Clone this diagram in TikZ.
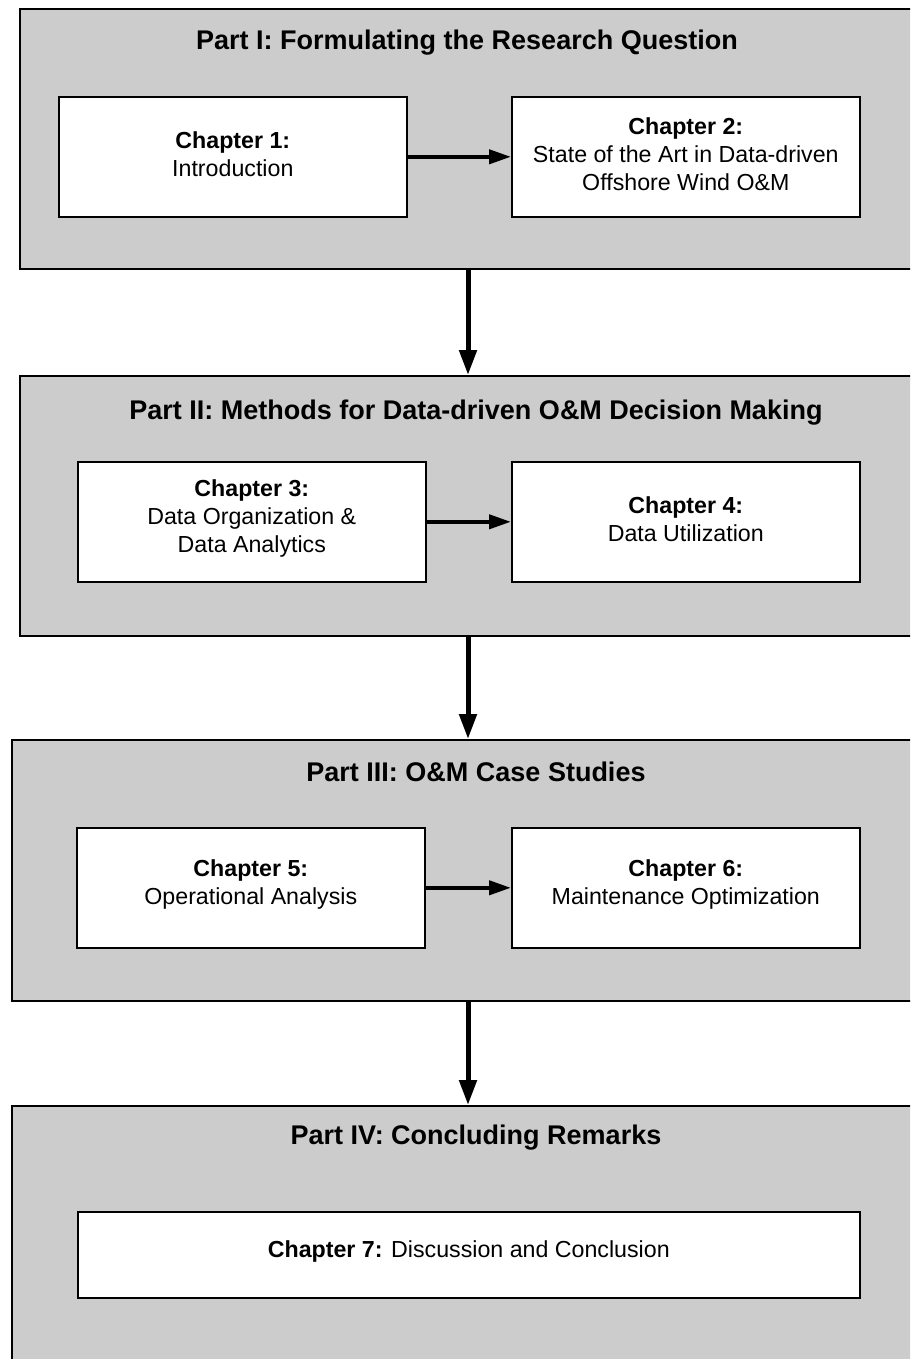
\documentclass[tikz,border=0pt]{standalone}
\usepackage{fontspec}
\setmainfont{Liberation Sans}
\usetikzlibrary{arrows.meta}
\definecolor{partgray}{HTML}{CCCCCC}
\tikzset{
  partbox/.style={draw=black, fill=partgray, line width=2pt, anchor=north west, inner sep=0pt},
  chapbox/.style={draw=black, fill=white, line width=1.6pt, anchor=north west, inner sep=0pt,
    minimum width=348pt, minimum height=120pt},
  chaptext/.style={align=center, inner sep=0pt, font=\fontsize{23.2}{28}\selectfont},
  parttitle/.style={font=\fontsize{27}{32}\selectfont\bfseries, inner sep=0pt},
  flow/.style={line width=4pt, -{Triangle[length=22pt, width=14pt]}},
  downflow/.style={line width=5pt, -{Triangle[length=25pt, width=17pt]}},
}
\begin{document}
\begin{tikzpicture}[x=1pt, y=-1pt]
\useasboundingbox (0,0) rectangle (910,1359);
\clip (0,0) rectangle (910,1359);

% part frames
\node[partbox, minimum width=920pt, minimum height=260pt] (p1) at (19,8) {};
\node[partbox, minimum width=920pt, minimum height=260pt] (p2) at (19,375) {};
\node[partbox, minimum width=930pt, minimum height=261pt] (p3) at (11,739) {};
\node[partbox, minimum width=930pt, minimum height=280pt] (p4) at (11,1105) {};

% part titles
\node[parttitle] (t1) at (467,43) {Part I: Formulating the Research Question};
\node[parttitle] (t2) at (476,413) {Part II: Methods for Data-driven O\&M Decision Making};
\node[parttitle] (t3) at (476,772) {Part III: O\&M Case Studies};
\node[parttitle] (t4) at (476,1138) {Part IV: Concluding Remarks};

% chapter frames
\node[chapbox] (c1) at (58,96) {};
\node[chapbox] (c2) at (511,96) {};
\node[chapbox] (c3) at (77,461) {};
\node[chapbox] (c4) at (511,461) {};
\node[chapbox] (c5) at (76,827) {};
\node[chapbox] (c6) at (511,827) {};
\node[chapbox, minimum width=782pt, minimum height=86pt] (c7) at (77,1211) {};

% chapter labels, set slightly above the frame centres
\node[chaptext] (c1t) at ([yshift=3pt]c1.center) {\textbf{Chapter 1:}\\Introduction};
\node[chaptext] (c2t) at ([yshift=3pt]c2.center) {\textbf{Chapter 2:}\\State of the Art in Data-driven\\Offshore Wind O\&M};
\node[chaptext] (c3t) at ([yshift=3pt]c3.center) {\textbf{Chapter 3:}\\Data Organization \&\\Data Analytics};
\node[chaptext] (c4t) at ([yshift=3pt]c4.center) {\textbf{Chapter 4:}\\Data Utilization};
\node[chaptext] (c5t) at ([yshift=3pt]c5.center) {\textbf{Chapter 5:}\\Operational Analysis};
\node[chaptext] (c6t) at ([yshift=3pt]c6.center) {\textbf{Chapter 6:}\\Maintenance Optimization};
\node[chaptext] (c7t) at ([yshift=3pt]c7.center) {\textbf{Chapter 7:} Discussion and Conclusion};

% connectors within parts
\draw[flow] (c1.east) -- (c2.west);
\draw[flow] (c3.east) -- (c4.west);
\draw[flow] (c5.east) -- (c6.west);

% connectors between parts
\coordinate (axis) at (468,0);
\draw[downflow] (p1.south -| axis) -- (p2.north -| axis);
\draw[downflow] (p2.south -| axis) -- (p3.north -| axis);
\draw[downflow] (p3.south -| axis) -- (p4.north -| axis);
\end{tikzpicture}
\end{document}
